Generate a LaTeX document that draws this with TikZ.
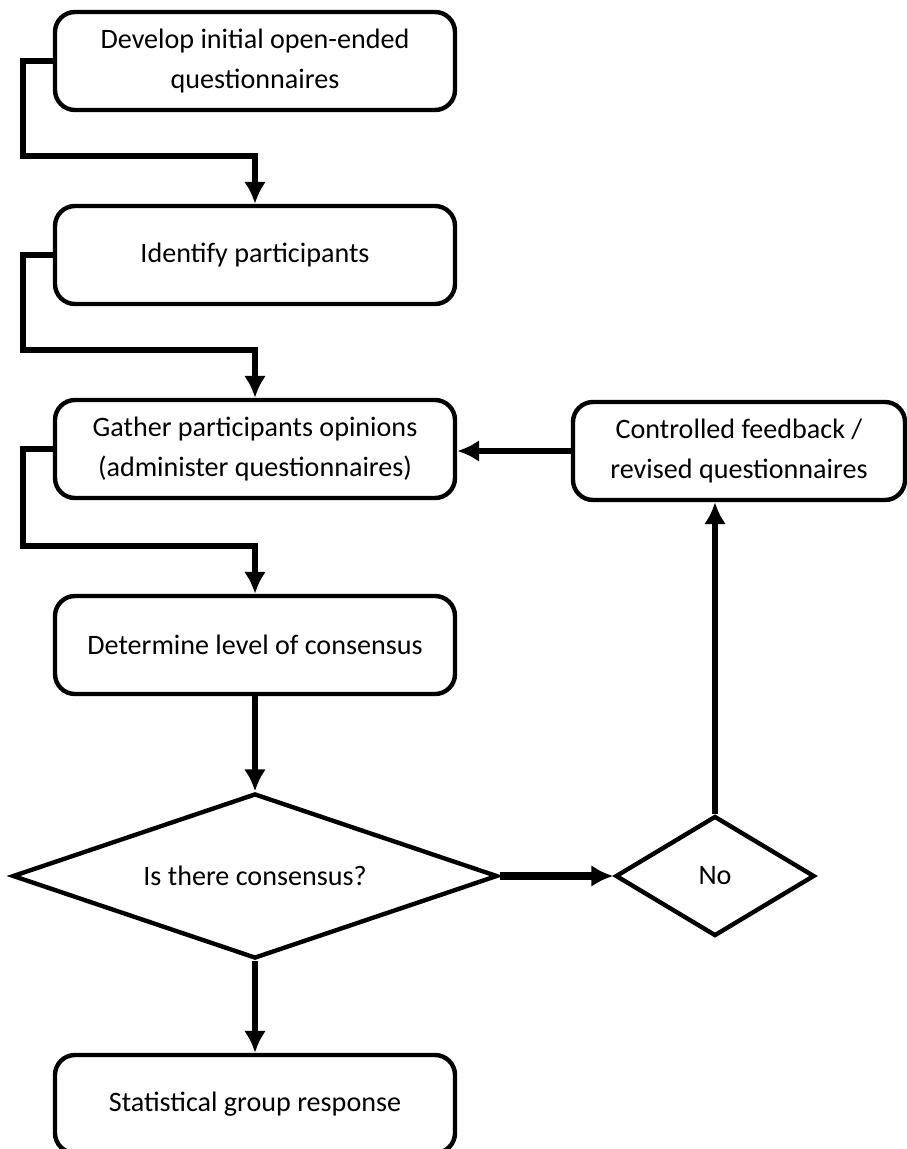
\documentclass[tikz,border=0pt]{standalone}
\usepackage{fontspec}
\setmainfont{Carlito}
\usetikzlibrary{shapes.geometric, arrows.meta}
\tikzstyle{process} = [rectangle, rounded corners=0.4cm, minimum width=8cm, minimum height=1.96cm, inner sep=0.2cm, align=flush center, text width=7.6cm, draw=black, line width=2.5pt]
\tikzstyle{feedback} = [process, minimum width=6.64cm, text width=6.2cm]
\tikzstyle{decision} = [diamond, aspect=2.94, minimum width=9.7cm, minimum height=3.3cm, inner sep=0pt, text centered, draw=black, line width=2.5pt]
\tikzstyle{answer} = [decision, aspect=1.66, minimum width=3.98cm, minimum height=2.4cm]
\tikzstyle{arrow} = [line width=3.2pt, -{Latex[length=0.44cm, width=0.44cm]}]

\begin{document}
\begin{tikzpicture} [node distance=3.88cm, font=\fontsize{16}{23}\selectfont]
        \useasboundingbox (0,0) rectangle (18.12,-22.98);
        \node (dev) [process] at (5.1,-1.22) {Develop initial open-ended\\questionnaires};
        \node (ident) [process, below of=dev] {Identify participants};
        \node (gather) [process, below of=ident] {Gather participants opinions\\(administer questionnaires)};
        \node (level) [process, below of=gather, yshift=-0.04cm] {Determine level of consensus};
        \node (cons) [decision, below of=level, yshift=-0.74cm] {Is there consensus?};
        \node (no) [answer, right of=cons, xshift=5.32cm] {No};
        \node (fb) [feedback, above of=no, yshift=4.62cm, xshift=0.48cm] {Controlled feedback /\\revised questionnaires};
        \node (resp) [process, below of=cons, yshift=-0.68cm] {Statistical group response};

        \draw[arrow] (dev.west) -- ++(-0.6,0) |- ([yshift=0.96cm]ident.north) -- (ident.north);
        \draw[arrow] (ident.west) -- ++(-0.6,0) |- ([yshift=0.96cm]gather.north) -- (gather.north);
        \draw[arrow] (gather.west) -- ++(-0.6,0) |- ([yshift=0.96cm]level.north) -- (level.north);
        \draw[arrow] (level) -- (cons);
        \draw[arrow] (cons) -- (resp);
        \draw[arrow, line width=4.2pt] (cons) -- (no);
        \draw[arrow] (no.north) -- (no.north |- fb.south);
        \draw[arrow] (fb.west) -- (fb.west -| gather.east);
    \end{tikzpicture}
\end{document}
